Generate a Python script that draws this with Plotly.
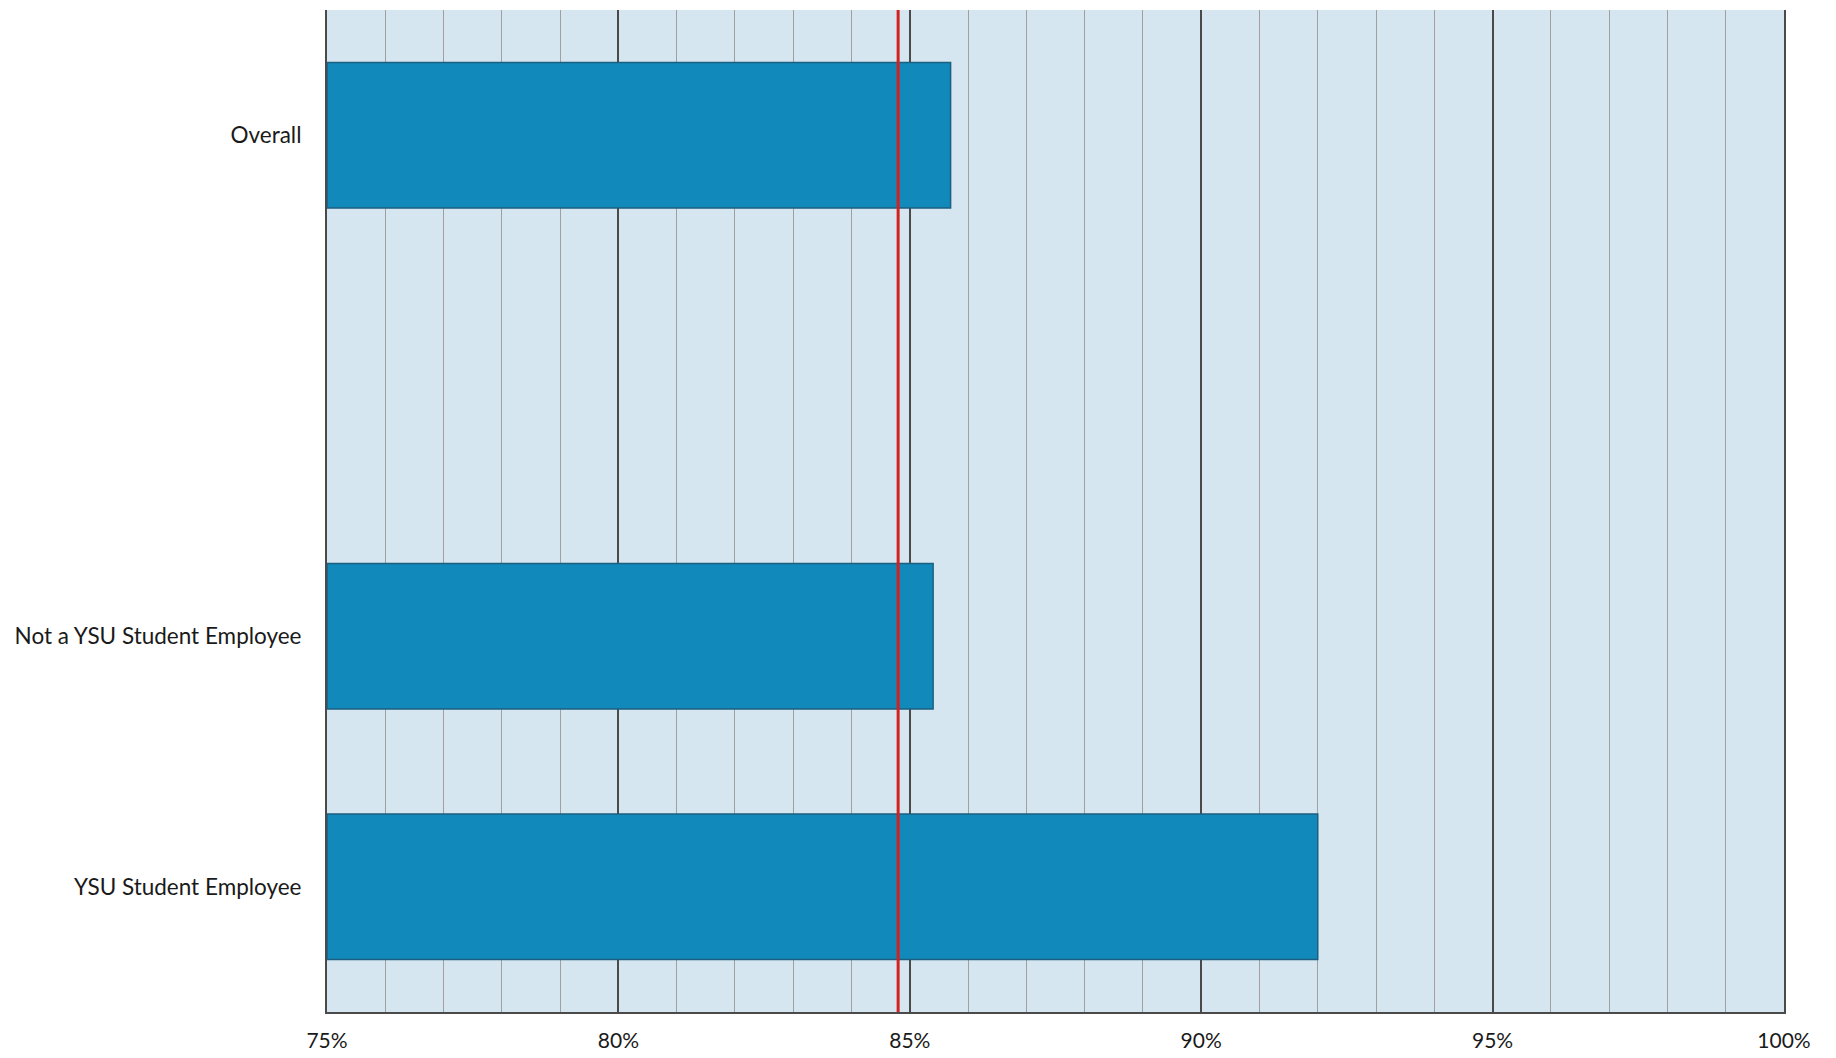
import plotly.graph_objects as go

# Survey groups (blank row keeps the gap under "Overall")
categories = ["Overall", " ", "Not a YSU Student Employee", "YSU Student Employee"]
values = [85.7, None, 85.4, 92.0]
benchmark = 84.8
axis_start = 75

tick_vals = [75, 80, 85, 90, 95, 100]
tick_text = ["75%", "80%", "85%", "90%", "95%", "100%"]

fig = go.Figure()
fig.add_trace(go.Bar(
    y=categories,
    x=[None if v is None else v - axis_start for v in values],
    base=axis_start,
    orientation="h",
    marker=dict(color="#1189bb", line=dict(color="#1d5f80", width=1.5)),
    width=0.58,
    showlegend=False,
))

fig.add_vline(x=benchmark, line=dict(color="#d4201f", width=3), layer="above")

fig.update_layout(
    width=1836,
    height=1058,
    margin=dict(l=327, r=52, t=10, b=46, autoexpand=False),
    paper_bgcolor="white",
    plot_bgcolor="#d5e6f1",
    font=dict(family="Lato, Open Sans, sans-serif", size=20, color="#1a1a1a"),
    bargap=0.42,
)
fig.update_xaxes(
    range=[75, 100],
    tickvals=tick_vals,
    ticktext=tick_text,
    showgrid=True,
    gridcolor="#4a4a4a",
    gridwidth=1.5,
    minor=dict(dtick=1, showgrid=True, gridcolor="#a0a0a0", gridwidth=1),
    showline=True,
    linecolor="#4a4a4a",
    linewidth=2,
    zeroline=False,
    ticks="",
    ticklabelstandoff=9,
    tickfont=dict(size=21),
    automargin=False,
)
fig.update_yaxes(
    categoryorder="array",
    categoryarray=categories,
    autorange="reversed",
    showgrid=False,
    showline=True,
    mirror=True,
    linecolor="#4a4a4a",
    linewidth=2,
    ticks="",
    ticklabelstandoff=19,
    tickfont=dict(size=22.5),
    automargin=False,
)

fig.write_html("out.html")
